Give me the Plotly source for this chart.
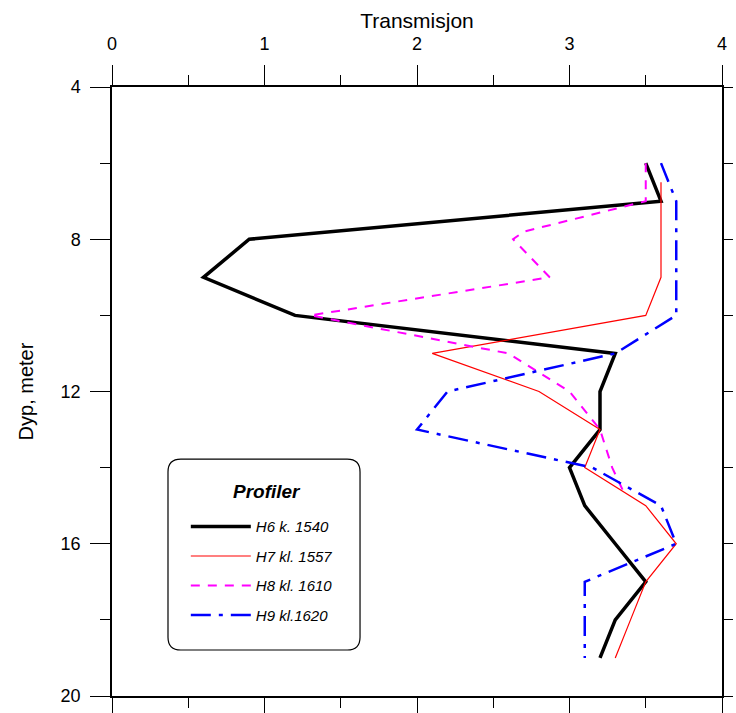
import plotly.graph_objects as go

# Data
h6_depth = [6, 7, 8, 9, 10, 11, 12, 13, 14, 15, 16, 17, 18, 19]
h6_trans = [3.5, 3.6, 0.9, 0.6, 1.2, 3.3, 3.2, 3.2, 3.0, 3.1, 3.3, 3.5, 3.3, 3.2]

h7_depth = [6.5, 7, 8, 9, 10, 11, 12, 13, 14, 15, 16, 17, 18, 19]
h7_trans = [3.6, 3.6, 3.6, 3.6, 3.5, 2.1, 2.8, 3.2, 3.1, 3.5, 3.7, 3.5, 3.4, 3.3]

h8_depth = [6, 7, 7.8, 8, 9, 10, 11, 12, 13, 14, 14.6]
h8_trans = [3.5, 3.5, 2.7, 2.63, 2.87, 1.3, 2.6, 3.0, 3.2, 3.28, 3.35]

h9_depth = [6, 7, 8, 9, 10, 11, 12, 13, 14, 15, 16, 17, 18, 19]
h9_trans = [3.6, 3.7, 3.7, 3.7, 3.7, 3.3, 2.2, 2.0, 3.15, 3.6, 3.7, 3.1, 3.1, 3.1]

names = ["H6 k. 1540", "H7 kl. 1557", "H8 kl. 1610", "H9 kl.1620"]
legend_title = "Profiler"

FONT = "Arial, Liberation Sans, sans-serif"

fig = go.Figure()
styles = [
    dict(color="black", width=3.5, dash="solid"),
    dict(color="red", width=1.2, dash="solid"),
    dict(color="#FF00FF", width=2, dash="9px,8px"),
    dict(color="blue", width=2.5, dash="20px,8px,4px,8px"),
]
series = [(h6_trans, h6_depth), (h7_trans, h7_depth), (h8_trans, h8_depth), (h9_trans, h9_depth)]
for i, ((xs, ys), st, nm) in enumerate(zip(series, styles, names)):
    fig.add_trace(go.Scatter(x=xs, y=ys, mode="lines", name=nm, line=st,
                             legendgroup=f"g{i}"))

# empty trace on y2 so right-side ticks are drawn
fig.add_trace(go.Scatter(x=[None], y=[None], yaxis="y2", showlegend=False, hoverinfo="skip"))

# Rounded legend box (paper coords)
x0, x1 = 0.0918, 0.4066
y0, y1 = 0.0755, 0.389
rx, ry = 0.021, 0.021
path = (f"M {x0+rx},{y0} L {x1-rx},{y0} Q {x1},{y0} {x1},{y0+ry} "
        f"L {x1},{y1-ry} Q {x1},{y1} {x1-rx},{y1} "
        f"L {x0+rx},{y1} Q {x0},{y1} {x0},{y1-ry} "
        f"L {x0},{y0+ry} Q {x0},{y0} {x0+rx},{y0} Z")

fig.update_layout(
    width=736, height=713,
    margin=dict(l=112, r=14, t=87, b=17),
    paper_bgcolor="white", plot_bgcolor="white",
    font=dict(family=FONT, size=18, color="black"),
    showlegend=True,
    shapes=[dict(type="path", path=path, xref="paper", yref="paper",
                 line=dict(color="black", width=1.2), fillcolor="white", layer="below")],
    annotations=[dict(text=f"<b>{legend_title}</b>", x=0.254, y=0.335, xref="paper", yref="paper",
                      showarrow=False, xanchor="center", yanchor="middle",
                      font=dict(family=FONT, size=19, style="italic"))],
    legend=dict(
        x=0.121, y=0.305, xanchor="left", yanchor="top",
        bgcolor="rgba(0,0,0,0)", borderwidth=0,
        font=dict(family=FONT, size=15, style="italic"),
        tracegroupgap=7,
        itemwidth=60,
    ),
    xaxis=dict(
        side="top", range=[0, 4], dtick=1, tick0=0,
        showgrid=False, zeroline=False, automargin=False,
        showline=True, linecolor="black", linewidth=1.5,
        mirror="ticks",
        ticks="outside", ticklen=20, tickwidth=1.3, tickcolor="black",
        minor=dict(dtick=0.5, ticks="outside", ticklen=10, tickwidth=1.3, tickcolor="black"),
        title=dict(text="Transmisjon", standoff=0, font=dict(size=21)),
        tickfont=dict(size=18),
        ticklabelstandoff=8,
    ),
    yaxis=dict(
        range=[20, 4], dtick=4, tick0=0,
        showgrid=False, zeroline=False, automargin=False,
        showline=True, linecolor="black", linewidth=1.5,
        mirror=True,
        ticks="outside", ticklen=20, tickwidth=1.3, tickcolor="black",
        minor=dict(dtick=2, ticks="outside", ticklen=10, tickwidth=1.3, tickcolor="black"),
        title=dict(text="Dyp, meter", standoff=22, font=dict(size=20)),
        tickfont=dict(size=18),
        ticklabelstandoff=6,
    ),
    yaxis2=dict(
        overlaying="y", side="right", range=[20, 4], dtick=2, tick0=0,
        showgrid=False, zeroline=False, showline=False, automargin=False,
        ticks="outside", ticklen=10, tickwidth=1.3, tickcolor="black",
        showticklabels=False,
    ),
)

fig.write_html("out.html", config={"displayModeBar": False},
               post_script="document.body.style.margin='0';document.body.style.overflow='hidden';")
